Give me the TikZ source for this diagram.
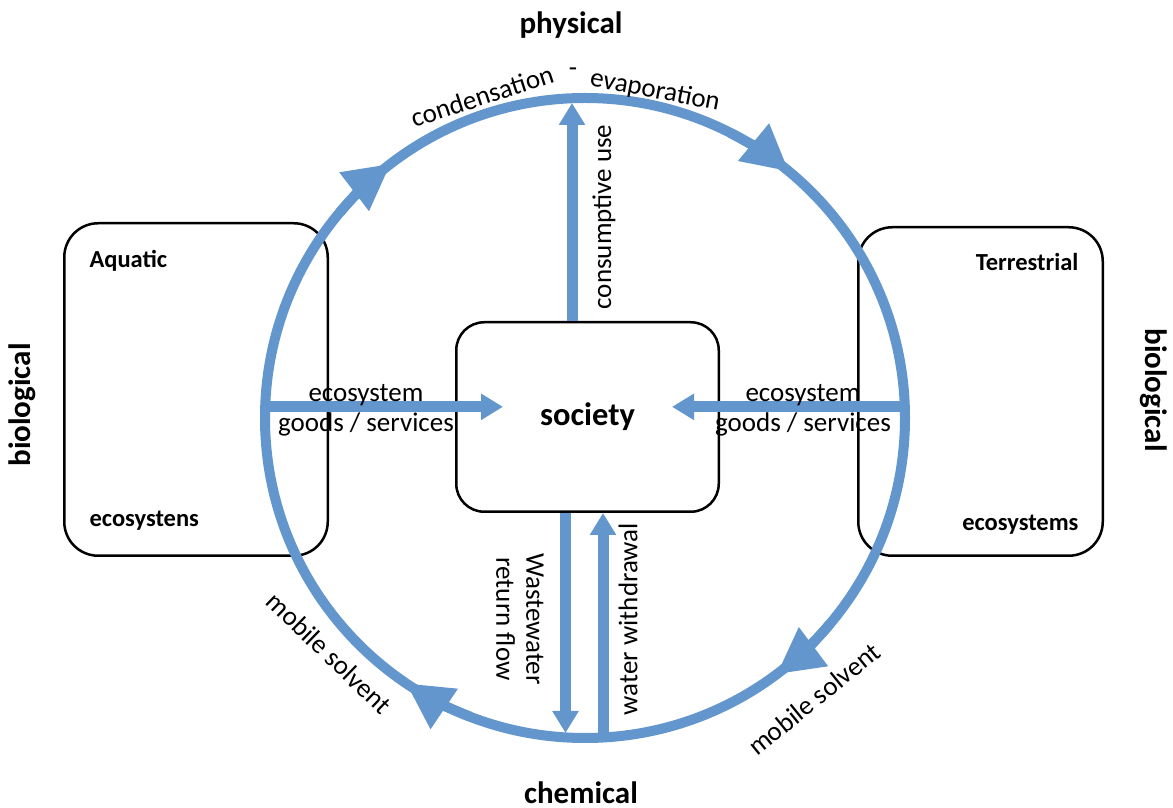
\documentclass[tikz,border=0pt]{standalone}
\usepackage{fontspec}
\setmainfont{Carlito}
\usetikzlibrary{arrows.meta}
\definecolor{cycleblue}{RGB}{98,150,204}

\begin{document}
\begin{tikzpicture}[x=1pt,y=1pt,
  box/.style={draw=black, line width=2.5pt, fill=white, rounded corners=34pt},
  cyc/.style={draw=cycleblue, line width=10pt},
  flow/.style={draw=cycleblue, line width=11pt, -{Triangle[length=22pt,width=25pt]}},
  lbl/.style={font=\fontsize{27}{30}\selectfont, align=center, inner sep=1pt},
  boxlbl/.style={font=\bfseries\fontsize{24.5}{28}\selectfont},
  side/.style={font=\bfseries\fontsize{31}{36}\selectfont}]

\useasboundingbox (0,0) rectangle (1173,808);

%% ecosystem boxes
\node[box, minimum width=263.5pt, minimum height=332.5pt] (aquatic) at (196,418.5) {};
\node[box, minimum width=244.5pt, minimum height=328.5pt] (terrestrial) at (980.5,416.5) {};
\node[boxlbl, anchor=west] (aqtop) at (86,547) {Aquatic};
\node[boxlbl, anchor=west] (aqbot) at (86,287) {ecosystens};
\node[boxlbl, anchor=east] (tetop) at (1082,546) {Terrestrial};
\node[boxlbl, anchor=east] (tebot) at (1082,283) {ecosystems};

%% the cycle
\node[circle, cyc, minimum size=640pt, inner sep=0pt, outer sep=0pt] (cycle) at (585,390) {};
\draw[cyc, -{Triangle[length=46pt,width=46pt]}] (cycle.140) arc[start angle=140, end angle=127.4, radius=320pt];
\draw[cyc, -{Triangle[length=46pt,width=46pt]}] (cycle.63) arc[start angle=63, end angle=50.4, radius=320pt];
\draw[cyc, -{Triangle[length=46pt,width=46pt]}] (cycle.-40) arc[start angle=-40, end angle=-53.2, radius=320pt];
\draw[cyc, -{Triangle[length=46pt,width=46pt]}] (cycle.-111) arc[start angle=-111, end angle=-124, radius=320pt];

\node[box, rounded corners=28pt, minimum width=262.5pt, minimum height=189.5pt,
  font=\bfseries\fontsize{32.5}{38}\selectfont] (society) at (587.5,391) {society};

%% flows
\draw[flow, shorten >=-48pt] (cycle.178) -- (cycle.178 -| society.west);
\draw[flow, shorten >=-48pt] (cycle.2) -- (cycle.2 -| society.east);
\draw[flow, shorten >=5pt] ([xshift=-15.5pt]society.north) -- ([xshift=-15.5pt]society.north |- cycle.north);
\draw[flow, shorten >=5pt] ([xshift=-22pt]society.south) -- ([xshift=-22pt]society.south |- cycle.south);
\draw[flow, shorten <=5pt] ([xshift=15.5pt]society.south |- cycle.south) -- ([xshift=15.5pt]society.south);

%% labels
\node[lbl] (inleft) at (366,398) {ecosystem\\goods / services};
\node[lbl] (inright) at (803,398) {ecosystem\\goods / services};
\node[lbl, rotate=90] (consume) at (604,591) {consumptive use};
\node[lbl, rotate=-90] (waste) at (520,189) {Wastewater\\return flow};
\node[lbl, rotate=90] (withdraw) at (628,189) {water withdrawal};
\node[lbl, rotate=18] (cond) at (482,712) {condensation};
\node[lbl] (dash) at (573,736) {-};
\node[lbl, rotate=-11] (evap) at (655,717) {evaporation};
\node[lbl, rotate=-44] (solvl) at (329,155) {mobile solvent};
\node[lbl, rotate=39] (solvr) at (814,109) {mobile solvent};

\node[side] (phys) at (571,783) {physical};
\node[side, anchor=base, inner sep=0pt] (chem) at (581,4) {chemical};
\node[side, rotate=90] (biol) at (22,403) {biological};
\node[side, rotate=-90] (bior) at (1154,418) {biological};

\end{tikzpicture}
\end{document}
